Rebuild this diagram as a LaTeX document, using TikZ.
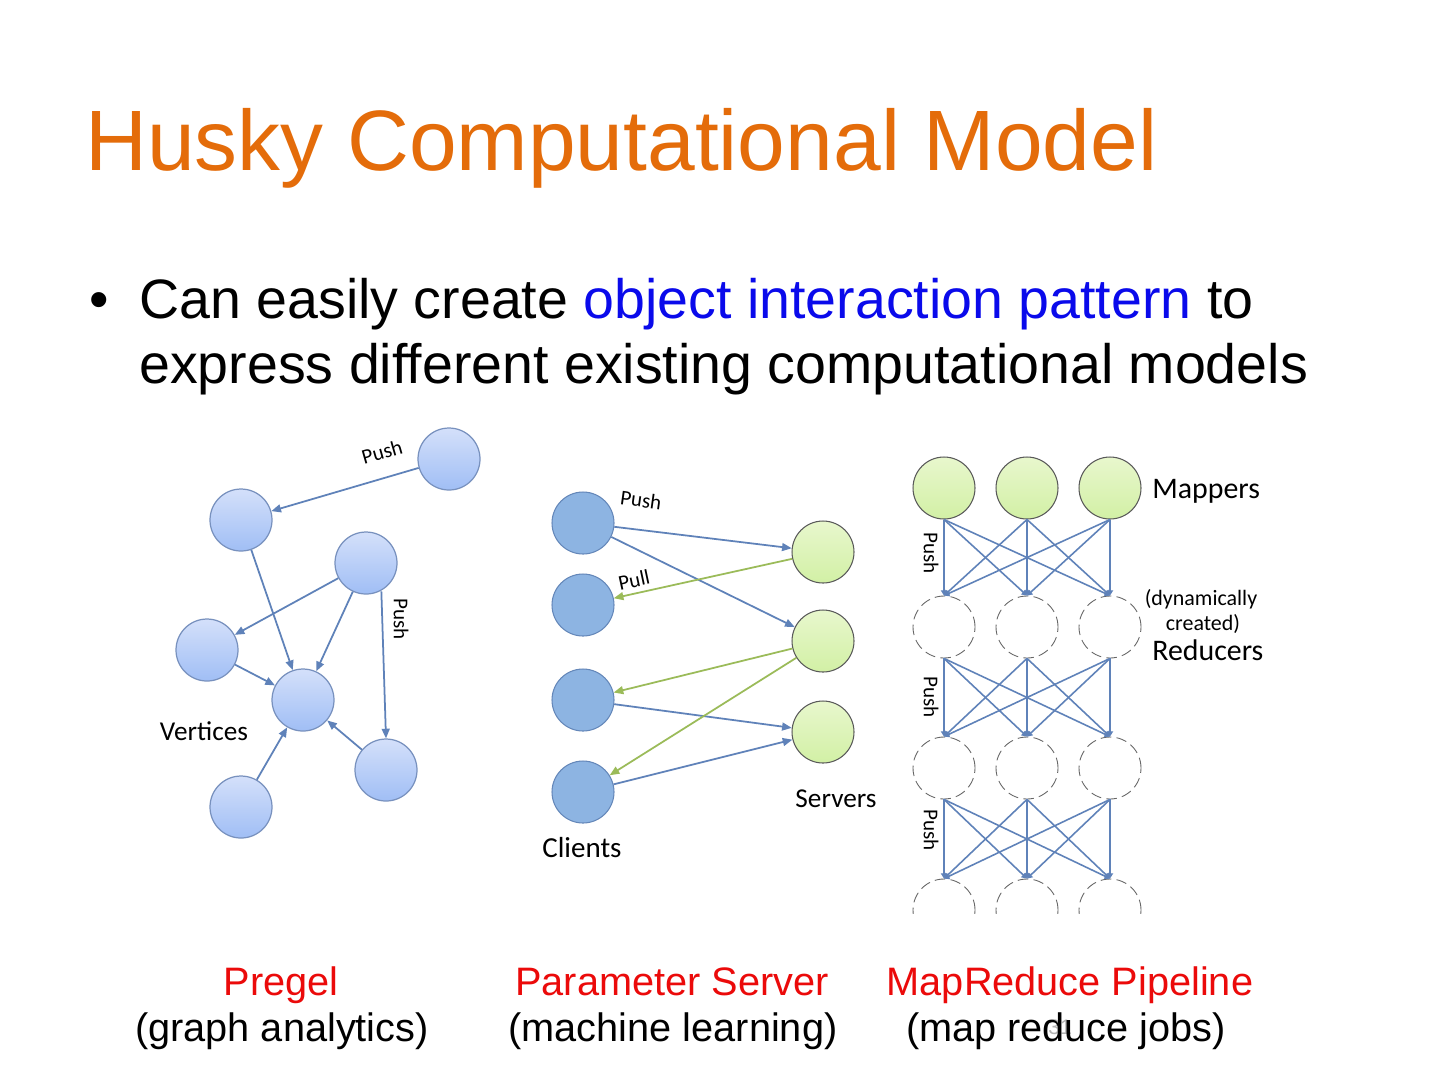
\documentclass[tikz,border=0pt]{standalone}
\usepackage{fontspec}
\setmainfont{Liberation Sans}
\newfontfamily\calibri{Carlito}
\usepackage{xcolor}
\usetikzlibrary{positioning, arrows.meta, shapes.geometric}

\definecolor{titleorange}{RGB}{228,108,10}
\definecolor{linkblue}{RGB}{10,10,235}
\definecolor{labelred}{RGB}{235,10,10}
\definecolor{edgeblue}{RGB}{95,130,185}
\definecolor{edgegreen}{RGB}{155,187,89}
\definecolor{vertexedge}{RGB}{120,145,190}
\definecolor{vertextop}{RGB}{212,224,250}
\definecolor{vertexbottom}{RGB}{160,190,245}
\definecolor{greentop}{RGB}{232,247,205}
\definecolor{greenbottom}{RGB}{210,240,165}
\definecolor{clientfill}{RGB}{141,180,226}
\definecolor{clientedge}{RGB}{100,135,185}

\tikzset{
    vertex/.style={circle, draw=vertexedge, line width=0.7pt, inner sep=0pt,
        minimum size=1.24cm, top color=vertextop, bottom color=vertexbottom},
    client/.style={circle, draw=clientedge, line width=0.6pt, inner sep=0pt,
        minimum size=1.24cm, fill=clientfill},
    greenbox/.style={circle, draw=black!65, line width=0.6pt, inner sep=0pt,
        minimum size=1.24cm, top color=greentop, bottom color=greenbottom},
    reducer/.style={circle, draw=black!60, line width=0.5pt, dash pattern=on 6pt off 3pt,
        inner sep=0pt, minimum size=1.24cm},
    edge/.style={-{Triangle[length=5.5pt, width=4.5pt]}, draw=edgeblue, line width=1pt},
    pulledge/.style={-{Triangle[length=5.5pt, width=4.5pt]}, draw=edgegreen, line width=1pt},
    shuffle/.style={-{Triangle[length=3pt, width=3.5pt]}, draw=edgeblue, line width=0.9pt},
    smalllbl/.style={font=\calibri\fontsize{12}{14}\selectfont, inner sep=0pt},
    midlbl/.style={font=\calibri\fontsize{15.5}{18}\selectfont, inner sep=0pt},
    biglbl/.style={font=\calibri\fontsize{17}{20}\selectfont, inner sep=0pt},
    caption/.style={font=\fontsize{22.6}{26}\selectfont, inner sep=0pt, anchor=base}
}

\begin{document}
\begin{tikzpicture}[x=0.02cm, y=-0.02cm]
    % Page
    \fill[white] (0,0) rectangle (1440,1080);
    \useasboundingbox (0,0) rectangle (1440,1080);

    % Title and bullet
    \node[anchor=base west, inner sep=0pt, text=titleorange,
        font=\fontsize{48.8}{58}\selectfont] (title) at (85,170) {Husky Computational Model};
    \node[anchor=base, inner sep=0pt, font=\fontsize{31.6}{38}\selectfont] (dot) at (99,318) {•};
    \node[anchor=base west, inner sep=0pt, font=\fontsize{31.6}{38}\selectfont] (line1) at (139,318)
        {Can easily create \textcolor{linkblue}{object interaction pattern} to};
    \node[anchor=base west, inner sep=0pt, font=\fontsize{31.6}{38}\selectfont] (line2) at (139,383)
        {express different existing computational models};

    % Pregel vertices
    \node[vertex] (v0) at (449,459) {};
    \node[vertex] (v1) at (241,520) {};
    \node[vertex] (v2) at (366,563) {};
    \node[vertex] (v3) at (207,650) {};
    \node[vertex] (v4) at (303,700) {};
    \node[vertex] (v5) at (386,770) {};
    \node[vertex] (v6) at (241,807) {};

    % Pregel messages
    \draw[edge] (v0) -- (v1);
    \draw[edge] (v1) -- (v4);
    \draw[edge] (v2) -- (v3);
    \draw[edge] (v2) -- (v4);
    \draw[edge] (v2.south east) ++(-7,6) coordinate (v2out) -- (v5.north);
    \draw[edge] (v3) -- (v4);
    \draw[edge] (v5) -- (v4);
    \draw[edge] (v6) -- (v4);
    \node[smalllbl, rotate=16] (pushA) at (382,452) {Push};
    \node[smalllbl, rotate=-90] (pushB) at (401,619) {Push};
    \node[midlbl, anchor=base] (vertices) at (204,740) {Vertices};

    % Parameter server
    \foreach \i/\y in {1/523, 2/605, 3/700, 4/792}
        \node[client] (c\i) at (583,\y) {};
    \foreach \i/\y in {1/552, 2/641, 3/732}
        \node[greenbox] (s\i) at (823,\y) {};
    \draw[edge] (c1) -- (s1);
    \draw[edge] (c1) -- (s2);
    \draw[edge] (c3) -- (s3);
    \draw[edge] (c4) -- (s3);
    \draw[pulledge] (s1) -- (c2);
    \draw[pulledge] (s2) -- (c3);
    \draw[pulledge] (s2) -- (c4);
    \node[smalllbl, rotate=-8] (pushC) at (641,500) {Push};
    \node[smalllbl, rotate=12] (pullC) at (634,580) {Pull};
    \node[midlbl, anchor=base] (servers) at (836,807) {Servers};
    \node[midlbl, anchor=base, font=\calibri\fontsize{16.5}{19}\selectfont] (clients) at (582,857) {Clients};

    % MapReduce pipeline
    \foreach \j/\x in {1/944, 2/1027, 3/1110} {
        \node[greenbox] (m\j) at (\x,488) {};
        \node[reducer] (ra\j) at (\x,627) {};
        \node[reducer] (rb\j) at (\x,768) {};
    }
    \begin{scope}
        \clip (900,860) rectangle (1160,913);
        \foreach \j/\x in {1/944, 2/1027, 3/1110}
            \node[reducer] (rc\j) at (\x,910) {};
    \end{scope}
    \foreach \i in {1,2,3}
        \foreach \j in {1,2,3} {
            \draw[shuffle] (m\i.south) -- (ra\j.north);
            \draw[shuffle] (ra\i.south) -- (rb\j.north);
            \draw[shuffle] (rb\i.south) -- (rc\j.north);
        }
    \node[smalllbl, rotate=-90] (pushD) at (931,553) {Push};
    \node[smalllbl, rotate=-90] (pushE) at (931,697) {Push};
    \node[smalllbl, rotate=-90] (pushF) at (931,830) {Push};
    \node[biglbl, anchor=base west] (mappers) at (1152,498) {Mappers};
    \node[smalllbl, anchor=base, font=\calibri\fontsize{12.5}{15}\selectfont] (dyn) at (1201,605) {(dynamically};
    \node[smalllbl, anchor=base, font=\calibri\fontsize{12.5}{15}\selectfont] (created) at (1203,630) {created)};
    \node[biglbl, anchor=base west] (reducers) at (1152,660) {Reducers};

    % Slide number
    \node[inner sep=0pt, text=black!30, font=\fontsize{12}{14}\selectfont] (pagenum) at (1060,1027) {31};

    % Captions
    \node[caption, text=labelred] (cap1) at (281,995) {Pregel};
    \node[caption] (sub1) at (282,1041) {(graph analytics)};
    \node[caption, text=labelred] (cap2) at (672,995) {Parameter Server};
    \node[caption] (sub2) at (673,1041) {(machine learning)};
    \node[caption, text=labelred] (cap3) at (1070,995) {MapReduce Pipeline};
    \node[caption] (sub3) at (1066,1041) {(map reduce jobs)};
\end{tikzpicture}
\end{document}
